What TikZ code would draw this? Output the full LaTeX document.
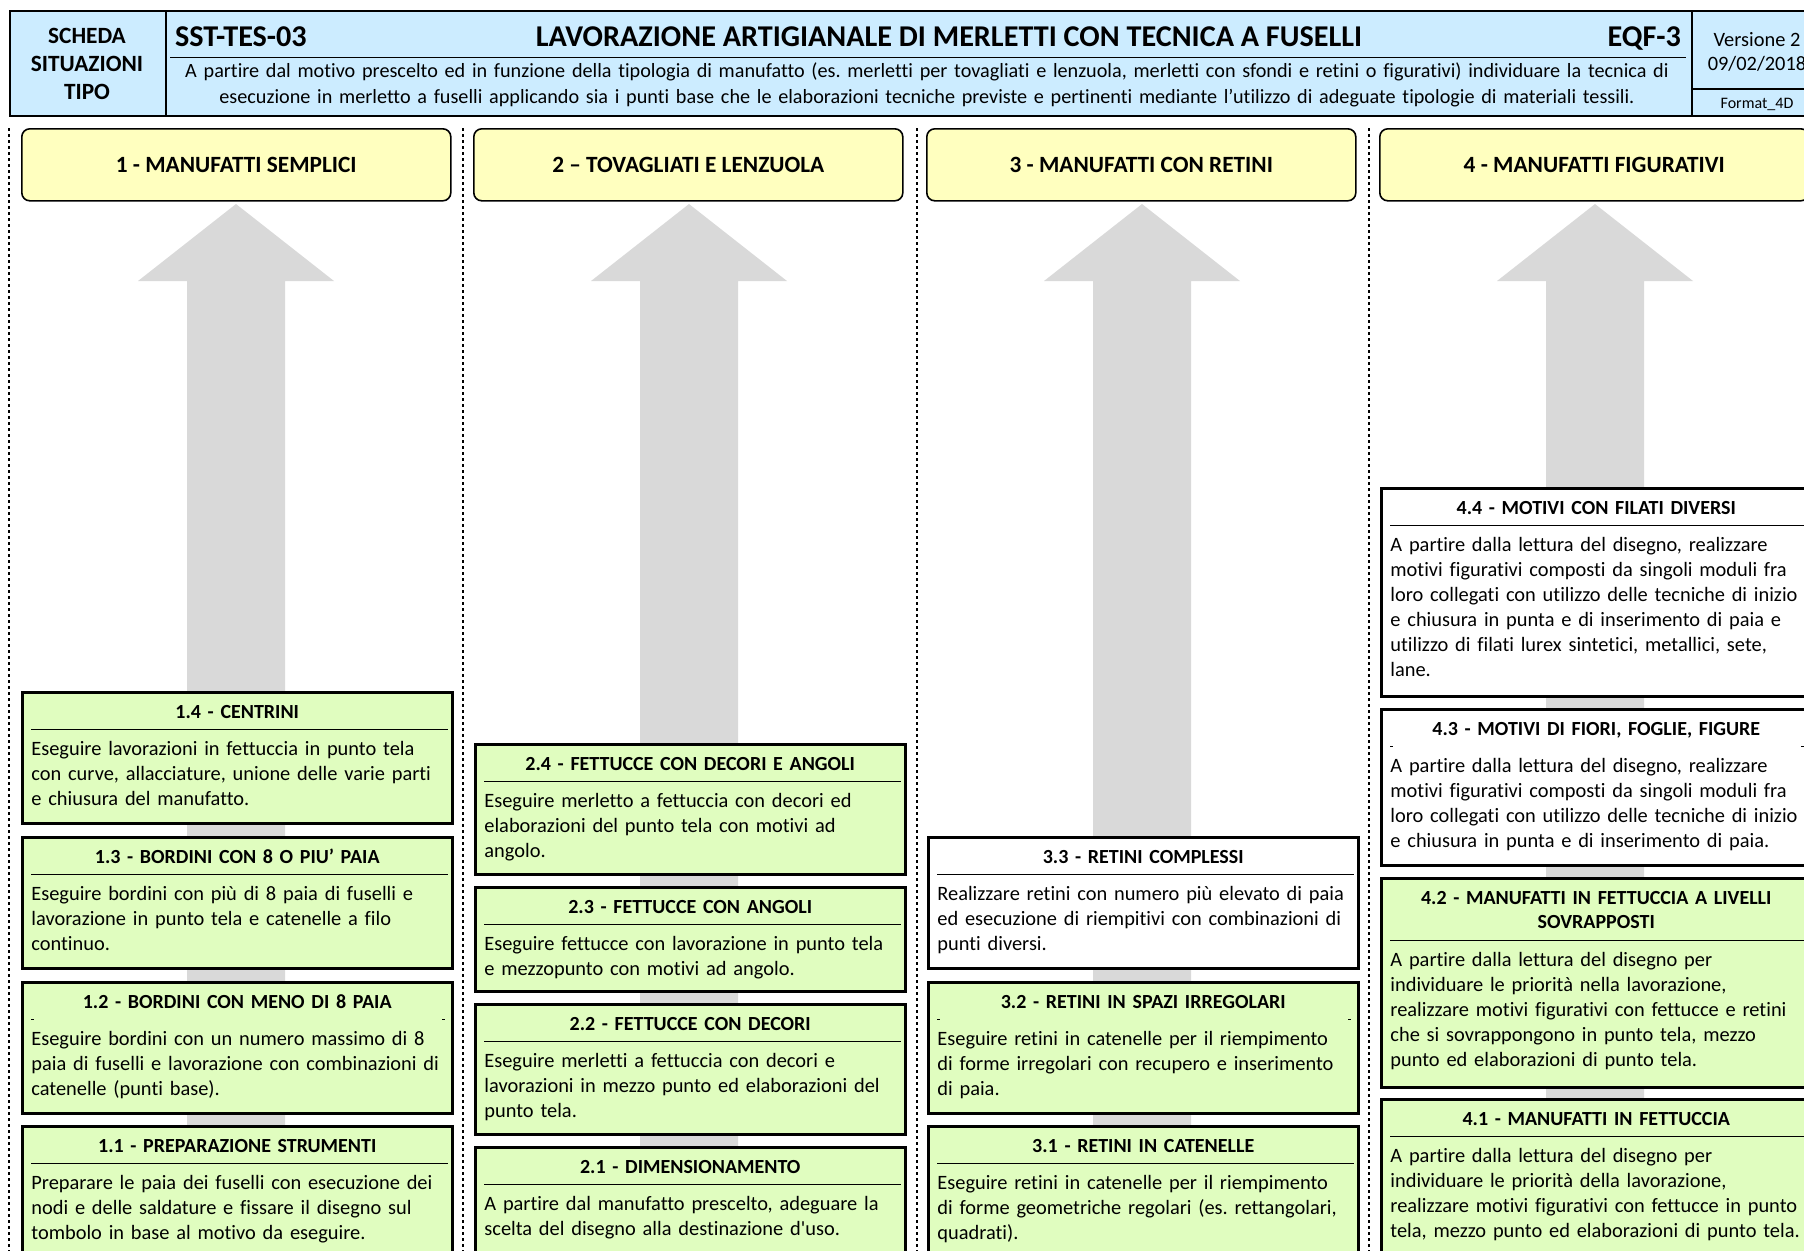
\documentclass[tikz,border=0pt]{standalone}
\usepackage{fontspec}
\setmainfont{Carlito}[Ligatures={TeX,NoCommon}]
\usetikzlibrary{calc}
\frenchspacing

\definecolor{azzurro}{RGB}{204,236,255}
\definecolor{giallino}{RGB}{255,255,191}
\definecolor{verdino}{RGB}{224,253,191}
\definecolor{grigio}{RGB}{217,217,217}

% box with title, rule and text: name, x, y, height, fill, rule style, title, text
\newcommand{\fase}[8]{%
  \node[fase, fill=#5, minimum height=#4*0.5pt] (#1) at (#2,#3) {};
  \node[fasetitolo] (#1-t) at ($(#1.north)+(0,10.5)$) {\strut #7};
  \draw[#6] ($(#1.north west)+(10,38)$) -- ($(#1.north east)+(-6,38)$);
  \node[fasetesto] (#1-x) at ($(#1.north west)+(10,46.5)$) {\strut #8};
}

\begin{document}
\begin{tikzpicture}[x=0.5pt, y=-0.5pt, font=\fontsize{10.2pt}{12.5pt}\selectfont,
  fase/.style={draw, line width=1.25pt, anchor=north west, minimum width=430*0.5pt, inner sep=0pt},
  fasetitolo/.style={anchor=north, text width=205pt, align=center, inner sep=0pt, font=\bfseries},
  fasetesto/.style={anchor=north west, text width=212pt, align=left, inner sep=0pt},
  riga/.style={line width=0.5pt},
  tacche/.style={line width=0.5pt, dash pattern=on 1.5pt off 204pt},
  categoria/.style={draw, line width=0.8pt, rounded corners=4pt, fill=giallino, anchor=north west,
    minimum width=429*0.5pt, minimum height=72*0.5pt, font=\fontsize{11.65pt}{14pt}\selectfont\bfseries},
  intest/.style={draw, line width=1pt, fill=azzurro, anchor=north west, minimum height=105*0.5pt, inner sep=0pt},
  colonna/.style={line width=1pt, dash pattern=on 1.5pt off 1.5pt},
  grande/.style={font=\fontsize{15.1pt}{18pt}\selectfont\bfseries}]
	\useasboundingbox (0,0) rectangle (1804,1250);
	\clip (0,0) rectangle (1804,1250);

	% intestazione
	\node[intest, minimum width=156*0.5pt] (scheda) at (9,10) {};
	\node[intest, minimum width=1526*0.5pt] (corpo) at (165,10) {};
	\node[intest, minimum width=140*0.5pt] (versione) at (1691,10) {};
	\draw[riga] ($(corpo.north west)+(5,47)$) -- ($(corpo.north east)+(-7,47)$);
	\draw[line width=1pt] ($(versione.north west)+(0,79)$) -- ($(versione.north east)+(0,79)$);
	\node[align=center, font=\fontsize{11.65pt}{14pt}\selectfont\bfseries] (tipo) at (87,64) {SCHEDA\\SITUAZIONI\\TIPO};
	\node[grande, anchor=base west] (codice) at (168,46) {SST-TES-03};
	\node[grande, anchor=base] (titolo) at (949,46) {LAVORAZIONE ARTIGIANALE DI MERLETTI CON TECNICA A FUSELLI};
	\node[grande, anchor=base east] (eqf) at (1688,46) {EQF-3};
	\node[anchor=north, text width=800pt, align=center, inner sep=0pt, font=\fontsize{10.1pt}{13pt}\selectfont] (descr) at (927,59)
	  {\strut A partire dal motivo prescelto ed in funzione della tipologia di manufatto (es. merletti per tovagliati e lenzuola, merletti con sfondi e retini o figurativi) individuare la tecnica di\\esecuzione in merletto a fuselli applicando sia i punti base che le elaborazioni tecniche previste e pertinenti mediante l’utilizzo di adeguate tipologie di materiali tessili.};
	\node[anchor=base] (vers) at (1757,46) {Versione 2};
	\node[anchor=base] (data) at (1757,70) {09/02/2018};
	\node[anchor=base, font=\fontsize{8pt}{9pt}\selectfont] (format) at (1757,108) {Format\_4D};

	% colonne tratteggiate
	\draw[colonna] (9,128) -- (9,1260);
	\draw[colonna] (463,128) -- (463,1260);
	\draw[colonna] (917,128) -- (917,1260);
	\draw[colonna] (1369,128) -- (1369,1260);

	% frecce
	\fill[grigio] (187,1260) -- (187,281) -- (138,281) -- (236,204) -- (334,281) -- (285,281) -- (285,1260) -- cycle;
	\fill[grigio] (640,1260) -- (640,281) -- (591,281) -- (689,204) -- (787,281) -- (738,281) -- (738,1260) -- cycle;
	\fill[grigio] (1093,1260) -- (1093,281) -- (1044,281) -- (1142,204) -- (1240,281) -- (1191,281) -- (1191,1260) -- cycle;
	\fill[grigio] (1546,1260) -- (1546,281) -- (1497,281) -- (1595,204) -- (1693,281) -- (1644,281) -- (1644,1260) -- cycle;

	% categorie
	\node[categoria] (cat1) at (21,128) {1 - MANUFATTI SEMPLICI};
	\node[categoria] (cat2) at (473,128) {2 – TOVAGLIATI E LENZUOLA};
	\node[categoria] (cat3) at (926,128) {3 - MANUFATTI CON RETINI};
	\node[categoria] (cat4) at (1379,128) {4 - MANUFATTI FIGURATIVI};

	% colonna 1
	\fase{f14}{21}{691}{131}{verdino}{riga}{1.4 - CENTRINI}
	  {Eseguire lavorazioni in fettuccia in punto tela\\con curve, allacciature, unione delle varie parti\\e chiusura del manufatto.}
	\fase{f13}{21}{836}{131}{verdino}{riga}{1.3 - BORDINI CON 8 O PIU’ PAIA}
	  {Eseguire bordini con più di 8 paia di fuselli e\\lavorazione in punto tela e catenelle a filo\\continuo.}
	\fase{f12}{21}{981}{131}{verdino}{tacche}{1.2 - BORDINI CON MENO DI 8 PAIA}
	  {Eseguire bordini con un numero massimo di 8\\paia di fuselli e lavorazione con combinazioni di\\catenelle (punti base).}
	\fase{f11}{21}{1125}{131}{verdino}{riga}{1.1 - PREPARAZIONE STRUMENTI}
	  {Preparare le paia dei fuselli con esecuzione dei\\nodi e delle saldature e fissare il disegno sul\\tombolo in base al motivo da eseguire.}

	% colonna 2
	\fase{f24}{474}{743}{130}{verdino}{riga}{2.4 - FETTUCCE CON DECORI E ANGOLI}
	  {Eseguire merletto a fettuccia con decori ed\\elaborazioni del punto tela con motivi ad\\angolo.}
	\fase{f23}{474}{886}{104}{verdino}{riga}{2.3 - FETTUCCE CON ANGOLI}
	  {Eseguire fettucce con lavorazione in punto tela\\e mezzopunto con motivi ad angolo.}
	\fase{f22}{474}{1003}{130}{verdino}{riga}{2.2 - FETTUCCE CON DECORI}
	  {Eseguire merletti a fettuccia con decori e\\lavorazioni in mezzo punto ed elaborazioni del\\punto tela.}
	\fase{f21}{474}{1146}{130}{verdino}{riga}{2.1 - DIMENSIONAMENTO}
	  {A partire dal manufatto prescelto, adeguare la\\scelta del disegno alla destinazione d\textquotesingle uso.}

	% colonna 3
	\fase{f33}{927}{836}{131}{white}{riga}{3.3 - RETINI COMPLESSI}
	  {Realizzare retini con numero più elevato di paia\\ed esecuzione di riempitivi con combinazioni di\\punti diversi.}
	\fase{f32}{927}{981}{131}{verdino}{tacche}{3.2 - RETINI IN SPAZI IRREGOLARI}
	  {Eseguire retini in catenelle per il riempimento\\di forme irregolari con recupero e inserimento\\di paia.}
	\fase{f31}{927}{1125}{131}{verdino}{riga}{3.1 - RETINI IN CATENELLE}
	  {Eseguire retini in catenelle per il riempimento\\di forme geometriche regolari (es. rettangolari,\\quadrati).}

	% colonna 4
	\fase{f44}{1380}{487}{208}{white}{riga}{4.4 - MOTIVI CON FILATI DIVERSI}
	  {A partire dalla lettura del disegno, realizzare\\motivi figurativi composti da singoli moduli fra\\loro collegati con utilizzo delle tecniche di inizio\\e chiusura in punta e di inserimento di paia e\\utilizzo di filati lurex sintetici, metallici, sete,\\lane.}
	\fase{f43}{1380}{708}{156}{white}{tacche}{4.3 - MOTIVI DI FIORI, FOGLIE, FIGURE}
	  {A partire dalla lettura del disegno, realizzare\\motivi figurativi composti da singoli moduli fra\\loro collegati con utilizzo delle tecniche di inizio\\e chiusura in punta e di inserimento di paia.}
	\node[fase, fill=verdino, minimum height=209*0.5pt] (f42) at (1380,877) {};
	\node[fasetitolo] (f42-t) at ($(f42.north)+(0,10.5)$) {\strut 4.2 - MANUFATTI IN FETTUCCIA A LIVELLI\\SOVRAPPOSTI};
	\draw[riga] ($(f42.north west)+(10,63)$) -- ($(f42.north east)+(-6,63)$);
	\node[fasetesto] (f42-x) at ($(f42.north west)+(10,71.5)$)
	  {\strut A partire dalla lettura del disegno per\\individuare le priorità nella lavorazione,\\realizzare motivi figurativi con fettucce e retini\\che si sovrappongono in punto tela, mezzo\\punto ed elaborazioni di punto tela.};
	\fase{f41}{1380}{1098}{160}{verdino}{riga}{4.1 - MANUFATTI IN FETTUCCIA}
	  {A partire dalla lettura del disegno per\\individuare le priorità della lavorazione,\\realizzare motivi figurativi con fettucce in punto\\tela, mezzo punto ed elaborazioni di punto tela.}
\end{tikzpicture}
\end{document}
